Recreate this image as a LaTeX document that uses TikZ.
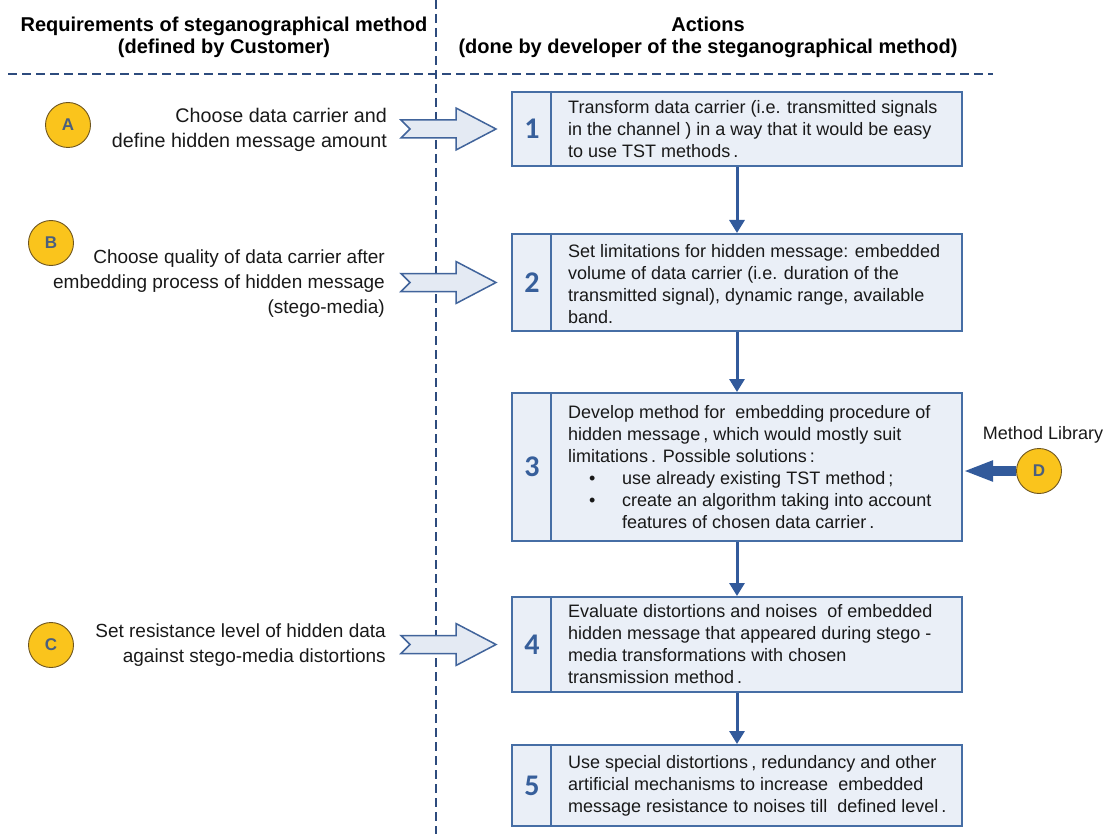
\documentclass[tikz,border=0pt]{standalone}
\usepackage{fontspec}
\setmainfont{Liberation Sans}
\newfontfamily\numfam{Carlito}
\usetikzlibrary{arrows.meta,calc}
\definecolor{boxblue}{RGB}{70,110,165}
\definecolor{boxfill}{RGB}{234,239,247}
\definecolor{numblue}{RGB}{55,95,155}
\definecolor{dashblue}{RGB}{45,75,125}
\definecolor{circfill}{RGB}{250,196,28}
\definecolor{circline}{RGB}{110,85,30}
\definecolor{lettercol}{RGB}{75,95,125}
\definecolor{arrfill}{RGB}{228,234,243}
\definecolor{arrline}{RGB}{65,100,155}
\definecolor{txtcol}{RGB}{25,25,25}
\definecolor{darrcol}{RGB}{50,90,155}
\begin{document}
\begin{tikzpicture}[x=1pt,y=-1pt,
  stepbox/.style={draw=boxblue, fill=boxfill, line width=2pt, minimum width=450pt, inner sep=0pt},
  divider/.style={draw=boxblue, line width=1.6pt},
  numlbl/.style={font={\numfam\bfseries\fontsize{30}{30}\selectfont}, text=numblue, inner sep=0pt},
  boxtxt/.style={anchor=west, align=left, inner sep=0pt, text=txtcol, font={\fontsize{18}{22}\selectfont}},
  reqtxt/.style={anchor=east, align=right, inner sep=0pt, text=txtcol, font={\fontsize{19}{25}\selectfont}},
  hdr/.style={align=center, inner sep=0pt, text=black, font={\bfseries\fontsize{20}{22}\selectfont}},
  circ/.style={circle, draw=circline, line width=0.9pt, fill=circfill, minimum size=45pt, inner sep=0pt, text=lettercol, font={\bfseries\fontsize{17}{17}\selectfont}},
  vflow/.style={draw=darrcol, line width=3pt, -{Triangle[length=13pt,width=15pt]}},
  darr/.style={draw=darrcol, line width=10pt, -{Triangle[length=30pt,width=19pt]}},
  hollowarr/.style={draw=arrline, line width=1.5pt, fill=arrfill, line join=miter},
  sep/.style={draw=dashblue, line width=1.5pt, dash pattern=on 9pt off 5pt}
]
\useasboundingbox (0,0) rectangle (1110,834);

% separators
\draw[sep] (436,0) -- (436,834);
\draw[sep] (8,74) -- (993,74);

% headers
\node[hdr] (h1) at (224,37) {Requirements of steganographical method\\(defined by Customer)};
\node[hdr] (h2) at (708,37) {Actions\\(done by developer of the steganographical method)};

% boxes
\node[stepbox, minimum height=74pt] (b1) at (737,129) {};
\node[stepbox, minimum height=97pt] (b2) at (737,282.5) {};
\node[stepbox, minimum height=148pt] (b3) at (737,467) {};
\node[stepbox, minimum height=95pt] (b4) at (737,644.5) {};
\node[stepbox, minimum height=81pt] (b5) at (737,785.5) {};

\foreach \b/\n in {b1/1,b2/2,b3/3,b4/4,b5/5}{
  \draw[divider] ([xshift=40pt]\b.north west) -- ([xshift=40pt]\b.south west);
  \node[numlbl] (n\n) at ($(\b.west)+(21,0)$) {\n};
}

\node[boxtxt] (t1) at ($(b1.west)+(57,0)$) {Transform data carrier (i.e. transmitted signals\\in the channel ) in a way that it would be easy\\to use TST methods\,.};
\node[boxtxt] (t2) at ($(b2.west)+(57,2)$) {Set limitations for hidden message: embedded\\volume of data carrier (i.e. duration of the\\transmitted signal), dynamic range, available\\band.};
\node[boxtxt] (t3) at ($(b3.west)+(57,0)$) {Develop method for\ \ embedding procedure of\\hidden message\,, which would mostly suit\\limitations\,. Possible solutions\,:\\\makebox[54pt][l]{\hspace*{21pt}\textbullet}use already existing TST method\,;\\\makebox[54pt][l]{\hspace*{21pt}\textbullet}create an algorithm taking into account\\\hspace*{54pt}features of chosen\ data carrier\,.};
\node[boxtxt] (t4) at ($(b4.west)+(57,0)$) {Evaluate distortions and noises\ \ of embedded\\hidden message that appeared during stego -\\media transformations with chosen\\transmission method\,.};
\node[boxtxt] (t5) at ($(b5.west)+(57,0)$) {Use special distortions\,, redundancy and other\\artificial mechanisms to increase\ \ embedded\\message\ resistance to noises till\ \ defined level\,.};

% flow arrows
\draw[vflow] (b1.south) -- (b2.north);
\draw[vflow] (b2.south) -- (b3.north);
\draw[vflow] (b3.south) -- (b4.north);
\draw[vflow] (b4.south) -- (b5.north);

% requirements
\node[reqtxt, font={\fontsize{19.7}{25}\selectfont}] (rA) at ($(b1.west)+(-124,1)$) {Choose data carrier and\\define hidden message amount};
\node[reqtxt] (rB) at ($(b2.west)+(-126,1.5)$) {Choose quality of data carrier after\\embedding process of hidden message\\(stego-media)};
\node[reqtxt] (rC) at ($(b4.west)+(-125,1)$) {Set resistance level of hidden data\\against stego-media distortions};

\node[circ] (cA) at (68,125) {A};
\node[circ] (cB) at (51,243) {B};
\node[circ] (cC) at (51,645) {C};
\node[circ] (cD) at (1039,471) {D};
\node[inner sep=0pt, text=txtcol, font={\fontsize{18}{22}\selectfont}] (ml) at (1043,435) {Method Library};

% hollow arrows
\foreach \b in {b1,b2,b4}{
  \coordinate (tail) at ($(\b.west)+(-110,0)$);
  \draw[hollowarr] (tail) ++(0,-9) -- ++(55,0) -- ++(0,-12) -- ++(40,21) -- ++(-40,21) -- ++(0,-12) -- ++(-55,0) -- ++(9,-9) -- cycle;
}

% method library arrow
\draw[darr] (cD.west) -- (cD.west -| b3.east);
\end{tikzpicture}
\end{document}
